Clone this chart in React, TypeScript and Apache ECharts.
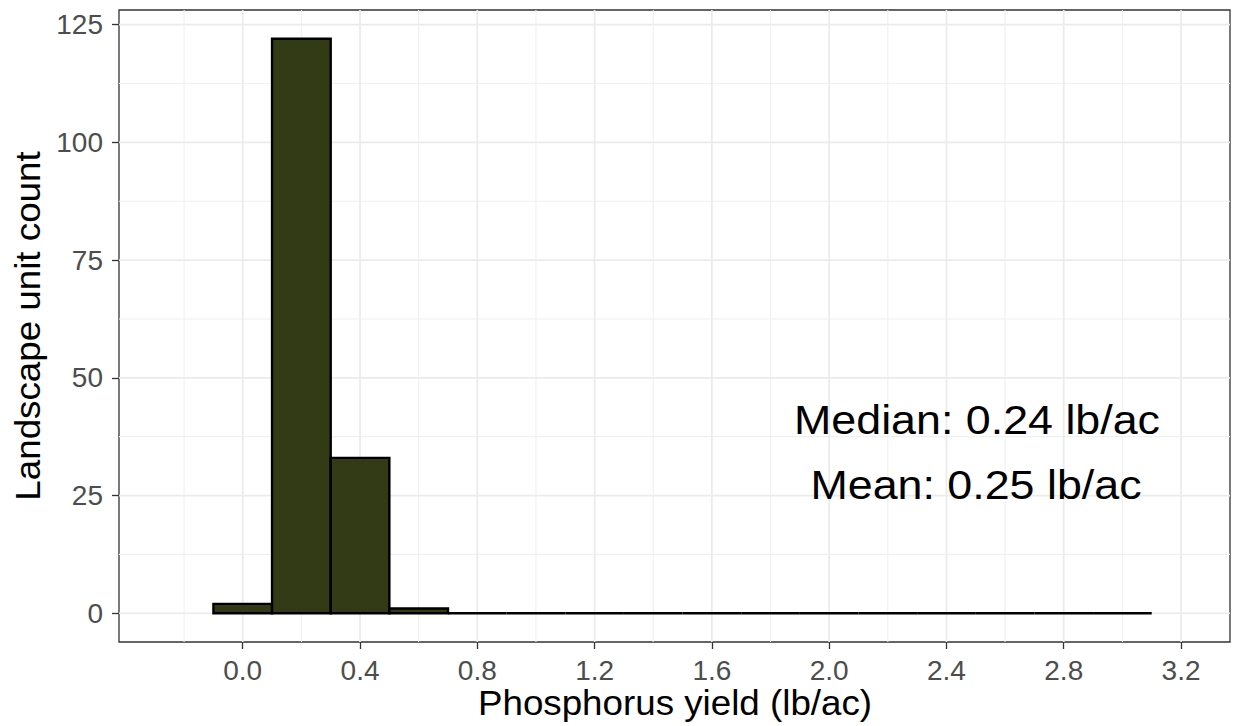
import React, { useEffect, useRef } from "react";
import * as echarts from "echarts";

// Histogram bins (centers, width) and counts
const binCenters = [0.0, 0.2, 0.4, 0.6, 0.8, 1.0, 1.2, 1.4, 1.6, 1.8, 2.0, 2.2, 2.4, 2.6, 2.8, 3.0];
const counts = [2, 122, 33, 1, 0, 0, 0, 0, 0, 0, 0, 0, 0, 0, 0, 0];
const binWidth = 0.2;

// Axis ticks / gridlines
const xTicks = [0.0, 0.4, 0.8, 1.2, 1.6, 2.0, 2.4, 2.8, 3.2];
const xMinorGrid = [-0.2, 0.2, 0.6, 1.0, 1.4, 1.8, 2.2, 2.6, 3.0];
const yTicks = [0, 25, 50, 75, 100, 125];
const yMinorGrid = [12.5, 37.5, 62.5, 87.5, 112.5];

// Axis ranges
const xRange = [-0.422, 3.367];
const yRange = [-6.1, 128.1];

// Texts
const xTitle = "Phosphorus yield (lb/ac)";
const yTitle = "Landscape unit count";
const annotations = ["Median: 0.24 lb/ac", "Mean: 0.25 lb/ac"];

const FONT = "'Liberation Sans', Arial, Helvetica, sans-serif";

export default function App() {
  const ref = useRef<HTMLDivElement>(null);

  useEffect(() => {
    document.body.style.margin = "0";
    if (!ref.current) return;
    const chart = echarts.init(ref.current, null, { renderer: "svg" });

    const vLine = (major: boolean) => (params: any, api: any) => {
      const v = api.value(0);
      const p1 = api.coord([v, yRange[0]]);
      const p2 = api.coord([v, yRange[1]]);
      return {
        type: "line",
        shape: { x1: p1[0], y1: p1[1], x2: p2[0], y2: p2[1] },
        style: { stroke: major ? "#ebebeb" : "#f0f0f0", lineWidth: major ? 1.7 : 1.1 },
      };
    };
    const hLine = (major: boolean) => (params: any, api: any) => {
      const v = api.value(1);
      const p1 = api.coord([xRange[0], v]);
      const p2 = api.coord([xRange[1], v]);
      return {
        type: "line",
        shape: { x1: p1[0], y1: p1[1], x2: p2[0], y2: p2[1] },
        style: { stroke: major ? "#ebebeb" : "#f0f0f0", lineWidth: major ? 1.7 : 1.1 },
      };
    };

    const option: any = {
      animation: false,
      backgroundColor: "#ffffff",
      grid: {
        left: 119,
        top: 10,
        width: 1111,
        height: 632,
        show: true,
        borderColor: "#333333",
        borderWidth: 1.3,
        backgroundColor: "transparent",
        containLabel: false,
      },
      xAxis: {
        type: "value",
        min: xRange[0],
        max: xRange[1],
        position: "bottom",
        axisLine: { show: false, onZero: false },
        axisTick: {
          show: true,
          length: 7,
          customValues: xTicks,
          lineStyle: { color: "#333333", width: 1.3 },
        },
        axisLabel: {
          customValues: xTicks,
          margin: 14,
          color: "#4d4d4d",
          fontSize: 28,
          fontFamily: FONT,
          formatter: (v: number) => v.toFixed(1),
        },
        splitLine: { show: false },
      },
      yAxis: {
        type: "value",
        min: yRange[0],
        max: yRange[1],
        axisLine: { show: false, onZero: false },
        axisTick: {
          show: true,
          length: 7,
          customValues: yTicks,
          lineStyle: { color: "#333333", width: 1.3 },
        },
        axisLabel: {
          customValues: yTicks,
          margin: 16,
          color: "#4d4d4d",
          fontSize: 28,
          fontFamily: FONT,
          formatter: (v: number) => String(v),
        },
        splitLine: { show: false },
      },
      series: [
        {
          type: "custom",
          silent: true,
          z: 0,
          renderItem: vLine(false),
          data: xMinorGrid.map((v) => [v, 0]),
        },
        {
          type: "custom",
          silent: true,
          z: 0,
          renderItem: hLine(false),
          data: yMinorGrid.map((v) => [0, v]),
        },
        {
          type: "custom",
          silent: true,
          z: 1,
          renderItem: vLine(true),
          data: xTicks.map((v) => [v, 0]),
        },
        {
          type: "custom",
          silent: true,
          z: 1,
          renderItem: hLine(true),
          data: yTicks.map((v) => [0, v]),
        },
        {
          type: "custom",
          z: 5,
          renderItem: (params: any, api: any) => {
            const c = api.value(0);
            const n = api.value(1);
            const tl = api.coord([c - binWidth / 2, n]);
            const br = api.coord([c + binWidth / 2, 0]);
            return {
              type: "rect",
              shape: { x: tl[0], y: tl[1], width: br[0] - tl[0], height: br[1] - tl[1] },
              style: { fill: "#333a16", stroke: "#000000", lineWidth: 2.4 },
            };
          },
          data: binCenters.map((c, i) => [c, counts[i]]),
        },
      ],
      graphic: [
        {
          type: "text",
          x: 977,
          y: 420,
          scaleX: 1.12,
          z: 10,
          style: {
            text: annotations[0],
            fill: "#000000",
            fontSize: 40,
            fontFamily: FONT,
            textAlign: "center",
            textVerticalAlign: "middle",
          },
        },
        {
          type: "text",
          x: 976,
          y: 485,
          scaleX: 1.12,
          z: 10,
          style: {
            text: annotations[1],
            fill: "#000000",
            fontSize: 40,
            fontFamily: FONT,
            textAlign: "center",
            textVerticalAlign: "middle",
          },
        },
        {
          type: "text",
          x: 675,
          y: 703,
          scaleX: 1.05,
          style: {
            text: xTitle,
            fill: "#000000",
            fontSize: 35,
            fontFamily: FONT,
            textAlign: "center",
            textVerticalAlign: "middle",
          },
        },
        {
          type: "text",
          x: 28,
          y: 326,
          rotation: Math.PI / 2,
          scaleX: 1.05,
          style: {
            text: yTitle,
            fill: "#000000",
            fontSize: 35,
            fontFamily: FONT,
            textAlign: "center",
            textVerticalAlign: "middle",
          },
        },
      ],
    };

    chart.setOption(option);
    return () => chart.dispose();
  }, []);

  return <div ref={ref} style={{ width: 1236, height: 726 }} />;
}
